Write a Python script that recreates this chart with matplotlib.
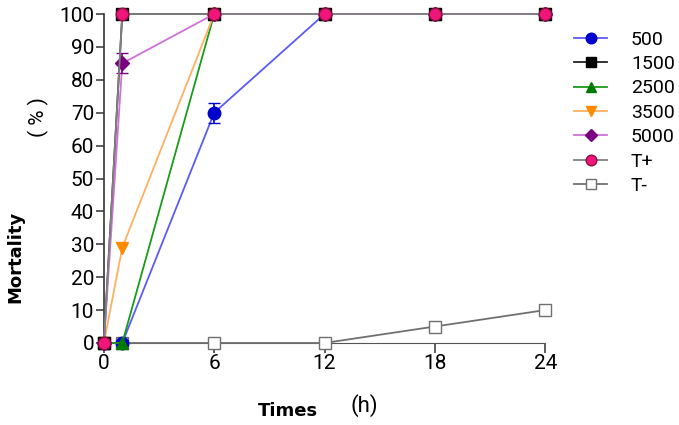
import matplotlib.pyplot as plt

times = [0, 1, 6, 12, 18, 24]
labels = ['500', '1500', '2500', '3500', '5000', 'T+', 'T-']
m500 = [0, 0, 70, 100, 100, 100]
m1500 = [0, 100, 100, 100, 100, 100]
m2500 = [0, 0, 100, 100, 100, 100]
m3500 = [0, 29, 100, 100, 100, 100]
m5000 = [0, 85, 100, 100, 100, 100]
tpos = [0, 100, 100, 100, 100, 100]
tneg = [0, 0, 0, 0, 5, 10]
err500 = [0, 0, 3, 0, 0, 0]
err5000 = [0, 3, 0, 0, 0, 0]

styles = [
    # line colour, marker, face, edge
    ('#5a5aff', 'o', '#0000cc', '#0000cc'),
    ('#222222', 's', '#000000', '#000000'),
    ('#1a9a1a', '^', '#007a00', '#007a00'),
    ('#ffb060', 'v', '#ff8a00', '#ff8a00'),
    ('#d070d8', 'D', '#7a0080', '#7a0080'),
    ('#808080', 'o', '#f0157a', '#8a1040'),
    ('#707070', 's', 'white', '#707070'),
]
series = [m500, m1500, m2500, m3500, m5000, tpos, tneg]
errs = [err500, None, None, None, err5000, None, None]

plt.rcParams['font.family'] = ['Roboto', 'DejaVu Sans']
fig = plt.figure(figsize=[6.79, 4.25], dpi=100)
ax = fig.add_axes([0.153, 0.193, 0.65, 0.774])

order = [6, 0, 2, 3, 1, 4, 5]
handles = [None] * len(series)
for i in order:
    lc, mk, fc, ec = styles[i]
    ms = 9 if mk != 'D' else 7
    h, = ax.plot(times, series[i], color=lc, linewidth=1.3, marker=mk, markersize=ms,
                 markerfacecolor=fc, markeredgecolor=ec, markeredgewidth=1.0,
                 clip_on=False, zorder=3 + order.index(i), label=labels[i])
    if errs[i] is not None:
        ax.errorbar(times, series[i], yerr=errs[i], fmt='none', ecolor=fc,
                    elinewidth=1.2, capsize=4, clip_on=False, zorder=3 + order.index(i))
    handles[i] = h

ax.set_xlim(0, 24)
ax.set_ylim(0, 100)
ax.set_xticks([0, 6, 12, 18, 24])
ax.set_yticks(range(0, 101, 10))
ax.spines['top'].set_visible(False)
ax.spines['right'].set_visible(False)
ax.spines['left'].set_color('#333333')
ax.spines['bottom'].set_color('#555555')
ax.spines['left'].set_linewidth(1.2)
ax.tick_params(axis='y', labelsize=15, length=6, width=1.1, color='#333333', pad=1)
ax.tick_params(axis='x', labelsize=15, length=7, width=1.1, color='#333333', pad=1)

fig.text(0.022, 0.395, 'Mortality', rotation=90, fontsize=13, fontweight='bold',
         family='DejaVu Sans', ha='center', va='center')
fig.text(0.056, 0.725, '( % )', rotation=90, fontsize=15, ha='center', va='center')
fig.text(0.424, 0.032, 'Times', fontsize=13, fontweight='bold', family='DejaVu Sans',
         ha='center', va='center')
fig.text(0.536, 0.047, '(h)', fontsize=16, ha='center', va='center')

fig.legend(handles=handles, loc='upper left', bbox_to_anchor=(0.846, 0.928),
           frameon=False, fontsize=14, labelspacing=0.33, handlelength=1.7,
           handletextpad=1.2, borderaxespad=0, borderpad=0, markerscale=0.85)

plt.savefig('out.png', dpi=100)
